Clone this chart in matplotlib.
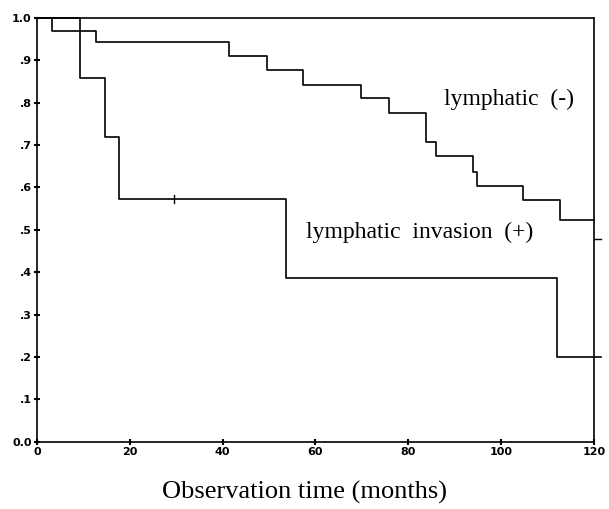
import matplotlib
matplotlib.use('Agg')
import matplotlib.pyplot as plt

# lymphatic (-): step times and survival after each step
neg_t = [0, 3.2, 12.7, 41.4, 49.5, 57.4, 69.8, 75.9, 83.8, 86.0, 93.9, 94.8, 104.7, 112.7, 120]
neg_s = [1.0, 0.97, 0.942, 0.911, 0.876, 0.842, 0.81, 0.776, 0.708, 0.673, 0.636, 0.604, 0.571, 0.524, 0.524]

# lymphatic invasion (+)
pos_t = [0, 9.3, 14.7, 17.6, 53.7, 112.1, 121.5]
pos_s = [1.0, 0.858, 0.718, 0.573, 0.387, 0.201, 0.201]
pos_censor = [29.6]

xticks = [0, 20, 40, 60, 80, 100, 120]
yticks = [0.0, 0.1, 0.2, 0.3, 0.4, 0.5, 0.6, 0.7, 0.8, 0.9, 1.0]
ylabels = ['0.0', '.1', '.2', '.3', '.4', '.5', '.6', '.7', '.8', '.9', '1.0']

fig = plt.figure(figsize=(6.09, 5.09), dpi=100)
ax = fig.add_axes([0.061, 0.132, 0.914, 0.833])

ax.step(neg_t, neg_s, where='post', color='black', lw=1.2, clip_on=False)
ax.step(pos_t, pos_s, where='post', color='black', lw=1.2, clip_on=False)
ax.plot([120, 121.5], [0.479, 0.479], color='black', lw=1.0, clip_on=False)
for c in pos_censor:
    ax.plot([c, c], [0.563, 0.583], color='black', lw=1.0)

ax.set_xlim(0, 120)
ax.set_ylim(0, 1.0)
ax.set_xticks(xticks)
ax.set_xticklabels([str(x) for x in xticks], fontsize=8, fontweight='bold')
ax.set_yticks(yticks)
ax.set_yticklabels(ylabels, fontsize=8, fontweight='bold')
ax.tick_params(direction='inout', length=4, width=1.5, pad=2)
for s in ax.spines.values():
    s.set_linewidth(1.2)

ax.text(101.7, 0.807, 'lymphatic  (-)', family='Liberation Serif', fontsize=17, ha='center', va='center')
ax.text(82.5, 0.493, 'lymphatic  invasion  (+)', family='Liberation Serif', fontsize=17, ha='center', va='center')
fig.text(0.5, 0.02, 'Observation time (months)', family='Liberation Serif', fontsize=19, ha='center')

fig.savefig('out.png', dpi=100)
